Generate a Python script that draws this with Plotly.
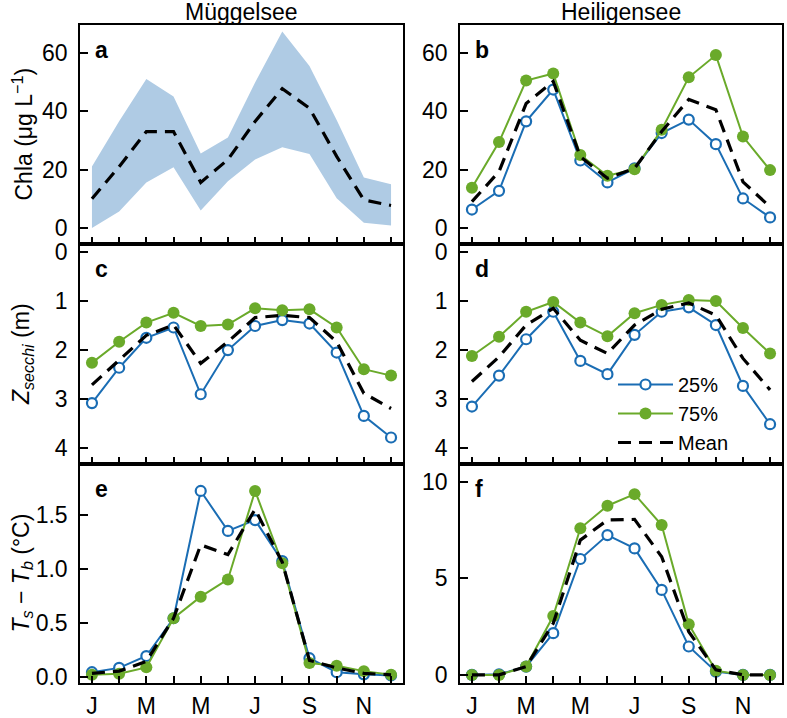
import plotly.graph_objects as go

# ---------------- data ----------------
months = list(range(1, 13))
month_tickvals = [1, 3, 5, 7, 9, 11]
month_ticktext = ["J", "M", "M", "J", "S", "N"]

# Müggelsee Chla: mean and inter-quartile band
mug_chla_mean = [10.0, 21.0, 33.0, 33.0, 15.6, 23.4, 36.5, 47.7, 41.0, 24.5, 9.6, 7.7]
mug_chla_upper = [21.0, 36.5, 51.0, 45.0, 25.5, 31.0, 49.8, 67.3, 55.5, 37.0, 17.3, 15.0]
mug_chla_lower = [0.0, 5.6, 15.6, 20.8, 6.0, 16.0, 23.4, 27.6, 25.3, 10.2, 1.8, 0.8]

# Heiligensee Chla
hei_chla_q25 = [6.3, 12.7, 36.5, 47.4, 23.1, 15.6, 20.4, 32.5, 37.1, 28.7, 10.1, 3.6]
hei_chla_q75 = [13.8, 29.4, 50.5, 52.9, 25.0, 17.9, 20.1, 33.6, 51.6, 59.2, 31.3, 19.8]
hei_chla_mean = [9.0, 19.3, 42.6, 50.2, 24.4, 17.0, 20.4, 33.0, 44.0, 40.5, 15.8, 7.2]

# Secchi depth
mug_secchi_q25 = [3.08, 2.36, 1.75, 1.54, 2.90, 2.00, 1.51, 1.39, 1.46, 2.05, 3.34, 3.78]
mug_secchi_q75 = [2.26, 1.83, 1.44, 1.24, 1.51, 1.48, 1.15, 1.19, 1.17, 1.54, 2.39, 2.52]
mug_secchi_mean = [2.71, 2.20, 1.70, 1.49, 2.27, 1.83, 1.34, 1.29, 1.34, 1.83, 2.88, 3.19]

hei_secchi_q25 = [3.15, 2.52, 1.78, 1.22, 2.22, 2.49, 1.69, 1.22, 1.13, 1.49, 2.73, 3.51]
hei_secchi_q75 = [2.12, 1.73, 1.22, 1.02, 1.44, 1.72, 1.25, 1.08, 0.98, 1.00, 1.55, 2.07]
hei_secchi_mean = [2.64, 2.14, 1.49, 1.15, 1.80, 2.07, 1.49, 1.17, 1.04, 1.29, 2.17, 2.81]

# Surface - bottom temperature difference
mug_dt_q25 = [0.04, 0.08, 0.19, 0.54, 1.72, 1.35, 1.45, 1.07, 0.17, 0.04, 0.02, 0.01]
mug_dt_q75 = [0.016, 0.025, 0.085, 0.54, 0.74, 0.90, 1.72, 1.05, 0.125, 0.10, 0.05, 0.016]
mug_dt_mean = [0.03, 0.05, 0.14, 0.54, 1.22, 1.13, 1.55, 1.06, 0.15, 0.08, 0.03, 0.015]

hei_dt_q25 = [0.0, 0.03, 0.43, 2.16, 6.00, 7.24, 6.55, 4.40, 1.47, 0.17, 0.0, 0.0]
hei_dt_q75 = [0.0, 0.0, 0.43, 3.05, 7.59, 8.76, 9.36, 7.76, 2.62, 0.22, 0.0, 0.0]
hei_dt_mean = [0.0, 0.0, 0.43, 2.67, 6.98, 8.02, 8.05, 6.12, 2.24, 0.26, 0.0, 0.0]

# ---------------- style ----------------
W, H = 787, 718
BLUE = "#1a6db4"
GREEN = "#6aaa2a"
FILL = "#afcbe4"
FONT = "Liberation Sans, Arial, sans-serif"
FS = 23
DASH = "13px,8px"

fig = go.Figure()


def quartile_traces(xa, ya, q25, q75, mean, show):
    fig.add_trace(go.Scatter(
        x=months, y=q25, mode="lines+markers", name="25%",
        line=dict(color=BLUE, width=2),
        marker=dict(symbol="circle", size=10, color="white",
                    line=dict(color=BLUE, width=2.2)),
        xaxis=xa, yaxis=ya, showlegend=show, legendrank=1))
    fig.add_trace(go.Scatter(
        x=months, y=q75, mode="lines+markers", name="75%",
        line=dict(color=GREEN, width=2),
        marker=dict(symbol="circle", size=12, color=GREEN),
        xaxis=xa, yaxis=ya, showlegend=show, legendrank=2))
    fig.add_trace(go.Scatter(
        x=months, y=mean, mode="lines", name="Mean",
        line=dict(color="black", width=3.2, dash=DASH),
        xaxis=xa, yaxis=ya, showlegend=show, legendrank=3))


# panel a: band + mean
fig.add_trace(go.Scatter(x=months, y=mug_chla_lower, mode="lines",
                         line=dict(width=0, color=FILL), showlegend=False,
                         xaxis="x", yaxis="y", hoverinfo="skip"))
fig.add_trace(go.Scatter(x=months, y=mug_chla_upper, mode="lines",
                         line=dict(width=0, color=FILL), fill="tonexty",
                         fillcolor=FILL, showlegend=False,
                         xaxis="x", yaxis="y", hoverinfo="skip"))
fig.add_trace(go.Scatter(x=months, y=mug_chla_mean, mode="lines",
                         line=dict(color="black", width=3.2, dash=DASH),
                         showlegend=False, xaxis="x", yaxis="y"))

quartile_traces("x2", "y2", hei_chla_q25, hei_chla_q75, hei_chla_mean, False)
quartile_traces("x3", "y3", mug_secchi_q25, mug_secchi_q75, mug_secchi_mean, False)
quartile_traces("x4", "y4", hei_secchi_q25, hei_secchi_q75, hei_secchi_mean, True)
quartile_traces("x5", "y5", mug_dt_q25, mug_dt_q75, mug_dt_mean, False)
quartile_traces("x6", "y6", hei_dt_q25, hei_dt_q75, hei_dt_mean, False)

# ---------------- layout ----------------
colx = [(80, 403), (460, 782)]
rowy = [(25, 244), (244, 464), (464, 683)]


def xdom(c):
    return [colx[c][0] / W, colx[c][1] / W]


def ydom(r):
    return [1 - rowy[r][1] / H, 1 - rowy[r][0] / H]


axis_common = dict(showline=True, mirror=True, linecolor="black", linewidth=1.5,
                   ticks="inside", tickcolor="black", tickwidth=1.5,
                   showgrid=False, zeroline=False,
                   tickfont=dict(family=FONT, size=FS, color="black"))

yranges = [[-5.5, 69.5], [-5.5, 69.5], [4.32, -0.16], [4.32, -0.16],
           [-0.06, 1.97], [-0.42, 10.92]]
ytickvals = [[0, 20, 40, 60], [0, 20, 40, 60], [0, 1, 2, 3, 4], [0, 1, 2, 3, 4],
             [0, 0.5, 1.0, 1.5], [0, 5, 10]]
ytickformat = ["d", "d", "d", "d", ".1f", "d"]

layout = dict(width=W, height=H, margin=dict(l=0, r=0, t=0, b=0),
              plot_bgcolor="white", paper_bgcolor="white",
              font=dict(family=FONT, size=FS, color="black"))

for i in range(6):
    r, c = divmod(i, 2)
    n = "" if i == 0 else str(i + 1)
    xa = dict(axis_common, domain=xdom(c), range=[0.56, 12.44],
              ticklen=7, anchor="y" + n, automargin=False)
    if r == 2:
        xa.update(tickmode="array", tickvals=month_tickvals, ticktext=month_ticktext,
                  showticklabels=True, ticklabelstandoff=2,
                  minor=dict(ticks="inside", ticklen=7, tickwidth=1.5,
                             tickcolor="black", tickmode="array", tickvals=months,
                             showgrid=False))
    else:
        xa.update(tickmode="array", tickvals=months, showticklabels=False)
    ya = dict(axis_common, domain=ydom(r), range=yranges[i], tickvals=ytickvals[i],
              tickformat=ytickformat[i], ticklen=8, anchor="x" + n,
              automargin=False, ticklabelstandoff=6)
    layout["xaxis" + n] = xa
    layout["yaxis" + n] = ya

layout["legend"] = dict(x=613 / W, y=1 - 365 / H, xanchor="left", yanchor="top",
                        bgcolor="rgba(0,0,0,0)", font=dict(family=FONT, size=20),
                        itemwidth=55, tracegroupgap=0, traceorder="normal")

annotations = []
# column titles
annotations.append(dict(text="Müggelsee", x=(colx[0][0] + colx[0][1]) / 2 / W, y=1 - 12 / H,
                        xref="paper", yref="paper", showarrow=False,
                        xanchor="center", yanchor="middle",
                        font=dict(family=FONT, size=FS)))
annotations.append(dict(text="Heiligensee", x=(colx[1][0] + colx[1][1]) / 2 / W, y=1 - 12 / H,
                        xref="paper", yref="paper", showarrow=False,
                        xanchor="center", yanchor="middle",
                        font=dict(family=FONT, size=FS)))
# panel letters
for i, letter in enumerate("abcdef"):
    n = "" if i == 0 else str(i + 1)
    annotations.append(dict(text="<b>" + letter + "</b>", x=13 / 323, y=1 - 25 / 219,
                            xref="x" + n + " domain", yref="y" + n + " domain",
                            xanchor="left", yanchor="middle", showarrow=False,
                            font=dict(family=FONT, size=FS)))
# y axis titles
ytitles = ["Chla (μg L<sup>−1</sup>)",
           "<i>Z</i><sub><i>secchi</i></sub> (m)",
           "<i>T</i><sub><i>s</i></sub> − <i>T</i><sub><i>b</i></sub> (°C)"]
for r in range(3):
    annotations.append(dict(text=ytitles[r], x=22 / W, y=sum(ydom(r)) / 2,
                            xref="paper", yref="paper", textangle=-90,
                            xanchor="center", yanchor="middle", showarrow=False,
                            font=dict(family=FONT, size=FS)))
layout["annotations"] = annotations

fig.update_layout(**layout)
fig.write_html("out.html", config={"displayModeBar": False},
               post_script="document.body.style.margin='0px';document.body.style.overflow='hidden';")
